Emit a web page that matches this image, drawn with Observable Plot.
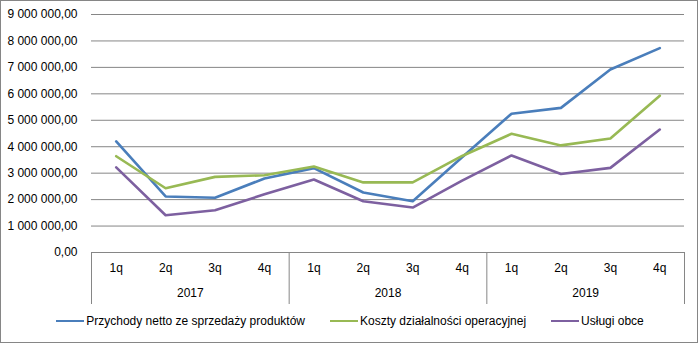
<!DOCTYPE html>
<html>
<head>
<meta charset="utf-8">
<script src="https://cdn.jsdelivr.net/npm/d3@7"></script>
<script src="https://cdn.jsdelivr.net/npm/@observablehq/plot@0.6"></script>
<style>
  html, body { margin: 0; padding: 0; background: #fff; }
  #wrap { position: relative; width: 700px; height: 344px; font-family: "Liberation Sans", Arial, sans-serif; }
  #border { position: absolute; left: 0; top: 0; width: 698px; height: 343px; box-sizing: border-box; border: 1px solid #868686; pointer-events: none; }
  #chart { position: absolute; left: 0; top: 0; }
  #legend { position: absolute; left: 0; top: 314px; width: 700px; display: flex; justify-content: center; gap: 25px; font-size: 12px; color: #000; }
  .item { display: flex; align-items: center; }
  .sw { width: 28px; height: 2.5px; margin-right: 2px; }
</style>
</head>
<body>
<div id="wrap">
  <div id="chart"></div>
  <div id="legend"></div>
  <div id="border"></div>
</div>
<script>
const years = ["2017", "2018", "2019"];
const quarters = ["1q", "2q", "3q", "4q"];
const seriesNames = ["Przychody netto ze sprzedaży produktów", "Koszty działalności operacyjnej", "Usługi obce"];
const seriesColors = ["#4a7ebb", "#98b954", "#7d60a0"];
const przychody = [4200000, 2120000, 2070000, 2800000, 3190000, 2270000, 1940000, 3600000, 5250000, 5470000, 6920000, 7730000];
const koszty    = [3640000, 2430000, 2860000, 2920000, 3250000, 2650000, 2650000, 3650000, 4490000, 4050000, 4310000, 5930000];
const uslugi    = [3220000, 1410000, 1600000, 2200000, 2760000, 1940000, 1700000, 2720000, 3670000, 2970000, 3200000, 4650000];
const yTicks = [0, 1000000, 2000000, 3000000, 4000000, 5000000, 6000000, 7000000, 8000000, 9000000];

const locale = d3.formatLocale({decimal: ",", thousands: " ", grouping: [3], currency: ["", ""]});
const fmt = locale.format(",.2f");

const seriesValues = [przychody, koszty, uslugi];
const rows = [];
seriesValues.forEach((vals, s) => vals.forEach((v, i) => rows.push({i, v, s: seriesNames[s]})));

const cats = [];
years.forEach((y, yi) => quarters.forEach((q, qi) => cats.push({i: yi * 4 + qi, q, y})));
const yearCenters = years.map((y, yi) => ({i: yi * 4 + 1.5, y}));
const separators = years.map((y, yi) => yi * 4 - 0.5).concat([years.length * 4 - 0.5]);

const chart = Plot.plot({
  width: 700,
  height: 310,
  marginLeft: 91,
  marginRight: 16,
  marginTop: 14,
  marginBottom: 58,
  style: {fontFamily: "Liberation Sans, Arial, sans-serif", fontSize: "12px", color: "#000", background: "transparent"},
  x: {domain: [-0.5, cats.length - 0.5], axis: null},
  y: {domain: [0, 9000000], axis: null},
  color: {domain: seriesNames, range: seriesColors},
  marks: [
    Plot.ruleY(yTicks, {stroke: "#868686", strokeWidth: 1}),
    Plot.axisX(separators, {tickSize: 52, tickFormat: () => "", stroke: "#868686", strokeOpacity: 1, label: null}),
    Plot.axisY(yTicks, {tickSize: 0, tickPadding: 14, tickFormat: fmt, fill: "#000", fontSize: 12, label: null}),
    Plot.text(cats, {x: "i", text: "q", frameAnchor: "bottom", dy: 19, fill: "#000", fontSize: 12}),
    Plot.text(yearCenters, {x: "i", text: "y", frameAnchor: "bottom", dy: 44, fill: "#000", fontSize: 12}),
    Plot.line(rows, {x: "i", y: "v", z: "s", stroke: "s", strokeWidth: 2.6, strokeLinejoin: "round", strokeLinecap: "round"})
  ]
});
document.getElementById("chart").appendChild(chart);

const legend = document.getElementById("legend");
seriesNames.forEach((n, k) => {
  const it = document.createElement("div");
  it.className = "item";
  const sw = document.createElement("div");
  sw.className = "sw";
  sw.style.background = seriesColors[k];
  const t = document.createElement("span");
  t.textContent = n;
  it.appendChild(sw);
  it.appendChild(t);
  legend.appendChild(it);
});
</script>
</body>
</html>
